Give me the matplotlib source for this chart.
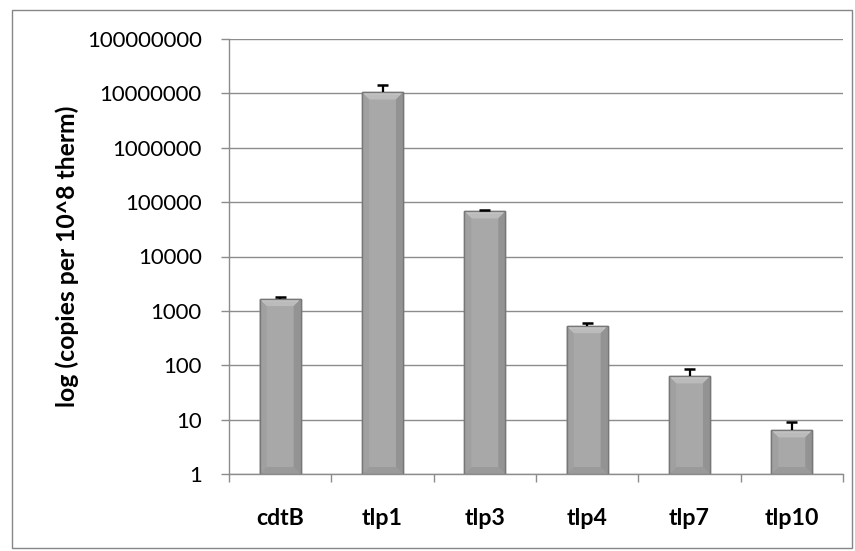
import matplotlib
matplotlib.use("Agg")
import matplotlib.pyplot as plt
from matplotlib.patches import Rectangle, Polygon
import numpy as np

plt.rcParams['font.family'] = ['Lato', 'DejaVu Sans']

categories = ["cdtB", "tlp1", "tlp3", "tlp4", "tlp7", "tlp10"]
values = [1650, 1.05e7, 68000, 525, 63, 6.4]
err_upper = [150, 3.5e6, 2500, 80, 22, 2.6]
ytick_vals = [1, 10, 100, 1000, 10000, 100000, 1000000, 10000000, 100000000]
ylabel_text = "log (copies per 10^8 therm)"

W, H = 855, 551
fig = plt.figure(figsize=(W / 100, H / 100), dpi=100)
renderer = fig.canvas.get_renderer()


def size_for_width(text, width_px, weight="normal", base=12.0):
    """Font size (pt) at which `text` spans width_px pixels."""
    t = fig.text(0, 0, text, fontsize=base, fontweight=weight)
    w = t.get_window_extent(renderer).width
    t.remove()
    return base * width_px / w


tick_fs = size_for_width("100000000", 115)
cat_fs = size_for_width("cdtB", 48, "bold")
ylab_fs = size_for_width(ylabel_text, 300, "bold")

fig.patches.append(Rectangle((12 / W, 3 / H), 840 / W, 538 / H, transform=fig.transFigure,
                             fill=False, edgecolor="#868686", linewidth=1.0))
ax = fig.add_axes([229 / W, 77 / H, 614 / W, 435 / H])

n = len(categories)
x = np.arange(n)
bw = 0.4
ax.set_yscale("log")
ax.set_ylim(1, 1e8)
ax.set_xlim(-0.5, n - 0.5)

ax.bar(x, values, width=bw, color="#A8A8A8", edgecolor="#7A7A7A", linewidth=1.0, zorder=3)

# bevelled look for each bar, drawn in axes-fraction coordinates
trans = ax.transAxes
bx = 7 / 614
by = 7 / 435
for xi, v in zip(x, values):
    x0 = (xi - bw / 2 + 0.5) / n
    x1 = (xi + bw / 2 + 0.5) / n
    y0 = 0.0
    y1 = np.log10(v) / 8
    ax.add_patch(Polygon([(x0, y1), (x1, y1), (x1 - bx, y1 - by), (x0 + bx, y1 - by)],
                         closed=True, transform=trans, facecolor="#C9C9C9", edgecolor="none", zorder=4))
    ax.add_patch(Polygon([(x0 + bx / 2, y1 - by / 3), (x1 - bx / 2, y1 - by / 3),
                          (x1 - bx, y1 - by), (x0 + bx, y1 - by)],
                         closed=True, transform=trans, facecolor="#BBBBBB", edgecolor="none", zorder=4))
    ax.add_patch(Polygon([(x0, y0), (x1, y0), (x1 - bx, y0 + by), (x0 + bx, y0 + by)],
                         closed=True, transform=trans, facecolor="#9A9A9A", edgecolor="none", zorder=4))
    ax.add_patch(Polygon([(x0, y0), (x0 + bx, y0 + by), (x0 + bx, y1 - by), (x0, y1)],
                         closed=True, transform=trans, facecolor="#A0A0A0", edgecolor="none", zorder=4))
    ax.add_patch(Polygon([(x1, y0), (x1 - bx, y0 + by), (x1 - bx, y1 - by), (x1, y1)],
                         closed=True, transform=trans, facecolor="#939393", edgecolor="none", zorder=4))
    ax.add_patch(Rectangle((x0, y0), x1 - x0, y1 - y0, transform=trans, fill=False,
                           edgecolor="#777777", linewidth=1.0, zorder=5))

# upper error bars only
tops = np.array(values) + np.array(err_upper)
ax.vlines(x, values, tops, color="black", linewidth=1.6, zorder=6)
ax.hlines(tops, x - 0.055, x + 0.055, color="black", linewidth=1.8, zorder=6)

ax.set_yticks(ytick_vals)
ax.set_yticklabels([str(v) for v in ytick_vals])
ax.yaxis.set_minor_locator(matplotlib.ticker.NullLocator())
ax.grid(axis="y", color="#8C8C8C", linewidth=1.0, zorder=0)
ax.set_axisbelow(True)

ax.set_xticks(np.arange(n + 1) - 0.5, minor=False)
ax.set_xticklabels([])
ax.set_xticks(x, minor=True)
ax.set_xticklabels(categories, minor=True, fontweight="bold", fontsize=cat_fs, va="baseline")
ax.tick_params(axis="x", which="minor", length=0, pad=51 * 0.72)
ax.tick_params(axis="x", which="major", length=6, color="#8C8C8C", width=1.0)
ax.tick_params(axis="y", length=6, color="#8C8C8C", width=1.0, labelsize=tick_fs, pad=19 * 0.72)

for s in ["top", "right"]:
    ax.spines[s].set_visible(False)
for s in ["left", "bottom"]:
    ax.spines[s].set_color("#8C8C8C")
    ax.spines[s].set_linewidth(1.0)

ax.set_ylabel(ylabel_text, fontsize=ylab_fs, fontweight="bold", va="center")
ax.yaxis.set_label_coords(-(229 - 67) / 614, 0.5)

fig.savefig("out.png", dpi=100)
